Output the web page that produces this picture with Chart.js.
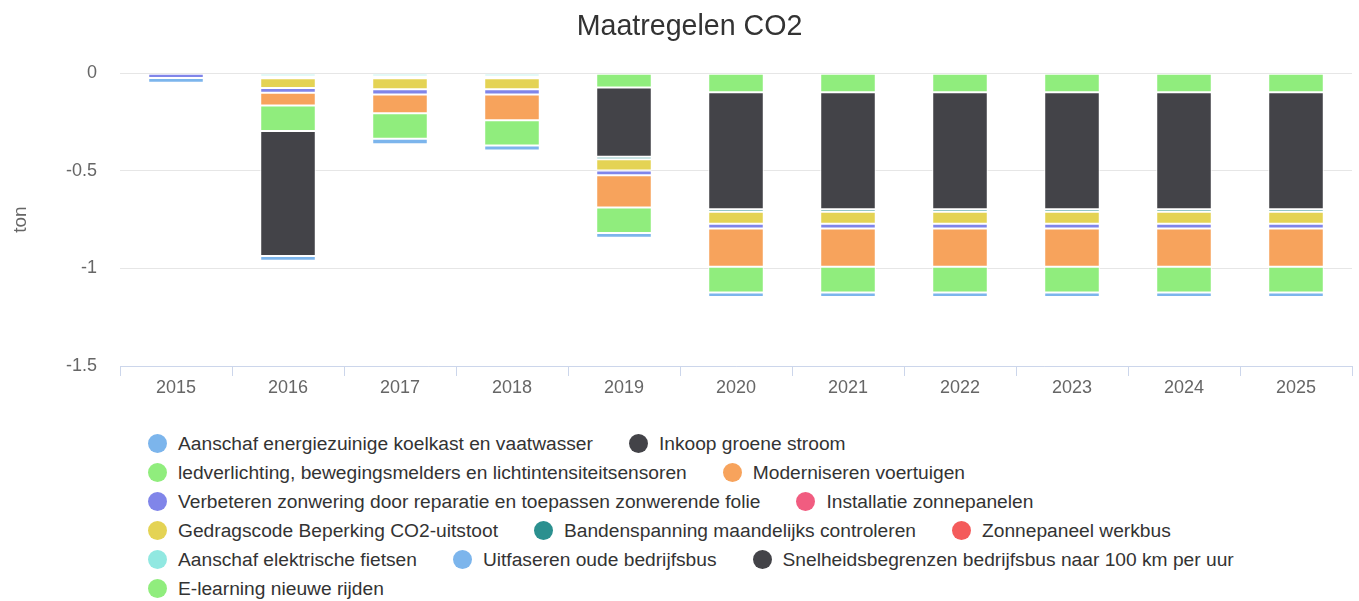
<!DOCTYPE html>
<html lang="nl">
<head>
<meta charset="utf-8">
<title>Maatregelen CO2</title>
<script src="https://cdn.jsdelivr.net/npm/chart.js@4/dist/chart.umd.min.js"></script>
<style>
  body { margin: 0; background: #fff; font-family: "Liberation Sans", Arial, sans-serif; }
  #wrap { position: relative; width: 1359px; height: 601px; }
  #chartBox { position: absolute; left: 0; top: 0; width: 1359px; height: 400px; }
  #legend { position: absolute; left: 148px; top: 429px; width: 1190px; display: flex; flex-wrap: wrap; }
  .item { display: flex; align-items: center; height: 29px; margin-right: 36px; white-space: nowrap; font-size: 19.2px; color: #333; }
  .dot { width: 19px; height: 19px; border-radius: 50%; margin-right: 11px; flex: none; }
</style>
</head>
<body>
<div id="wrap">
  <div id="chartBox"><canvas id="co2Chart"></canvas></div>
  <div id="legend"></div>
</div>
<script>
const years = ["2015", "2016", "2017", "2018", "2019", "2020", "2021", "2022", "2023", "2024", "2025"];
const yTicks = [0, -0.5, -1, -1.5];

const seriesNames = [
  "Aanschaf energiezuinige koelkast en vaatwasser",
  "Inkoop groene stroom",
  "ledverlichting, bewegingsmelders en lichtintensiteitsensoren",
  "Moderniseren voertuigen",
  "Verbeteren zonwering door reparatie en toepassen zonwerende folie",
  "Installatie zonnepanelen",
  "Gedragscode Beperking CO2-uitstoot",
  "Bandenspanning maandelijks controleren",
  "Zonnepaneel werkbus",
  "Aanschaf elektrische fietsen",
  "Uitfaseren oude bedrijfsbus",
  "Snelheidsbegrenzen bedrijfsbus naar 100 km per uur",
  "E-learning nieuwe rijden"
];
const seriesColors = ["#7cb5ec", "#434348", "#90ed7d", "#f7a35c", "#8085e9", "#f15c80",
  "#e4d354", "#2b908f", "#f45b5b", "#91e8e1", "#7cb5ec", "#434348", "#90ed7d"];

// ton CO2 per jaar, per maatregel (null = geen waarde)
const koelkast     = [-0.024, -0.025, -0.028, -0.026, -0.024, -0.024, -0.024, -0.024, -0.024, -0.024, -0.024];
const groeneStroom = [null, -0.64, null, null, null, null, null, null, null, null, null];
const ledverlichting = [null, -0.131, -0.13, -0.13, -0.131, -0.132, -0.132, -0.132, -0.132, -0.132, -0.132];
const voertuigen   = [null, -0.065, -0.097, -0.132, -0.165, -0.196, -0.196, -0.196, -0.196, -0.196, -0.196];
const zonwering    = [-0.024, -0.025, -0.026, -0.026, -0.025, -0.024, -0.024, -0.024, -0.024, -0.024, -0.024];
const zonnepanelen = [null, null, null, null, null, null, null, null, null, null, null];
const gedragscode  = [null, -0.05, -0.057, -0.057, -0.058, -0.061, -0.061, -0.061, -0.061, -0.061, -0.061];
const bandenspanning = [null, -0.01, -0.01, -0.01, -0.013, -0.013, -0.013, -0.013, -0.013, -0.013, -0.013];
const zonnepaneelBus = [null, null, null, null, null, null, null, null, null, null, null];
const fietsen      = [null, -0.015, -0.015, -0.015, null, null, null, null, null, null, null];
const oudeBus      = [null, null, null, null, null, null, null, null, null, null, null];
const snelheid     = [null, null, null, null, -0.354, -0.6, -0.6, -0.6, -0.6, -0.6, -0.6];
const eLearning    = [null, null, null, null, -0.073, -0.097, -0.097, -0.097, -0.097, -0.097, -0.097];

const seriesValues = [koelkast, groeneStroom, ledverlichting, voertuigen, zonwering, zonnepanelen,
  gedragscode, bandenspanning, zonnepaneelBus, fietsen, oudeBus, snelheid, eLearning];

// last measure sits closest to zero, so stack in reverse order
const datasets = seriesNames.map((name, i) => ({
  label: name,
  data: seriesValues[i],
  backgroundColor: seriesColors[i],
  borderColor: "#ffffff",
  borderWidth: 1,
  borderSkipped: false,
  inflateAmount: 0
})).reverse();

const fontFamily = "'Liberation Sans', Arial, sans-serif";
const ctx = document.getElementById("co2Chart").getContext("2d");

const co2Chart = new Chart(ctx, {
  type: "bar",
  data: { labels: years, datasets: datasets },
  options: {
    responsive: true,
    maintainAspectRatio: false,
    animation: false,
    layout: { padding: { left: 27, right: 7, top: 0, bottom: 0 } },
    datasets: { bar: { categoryPercentage: 0.62, barPercentage: 0.8 } },
    plugins: {
      legend: { display: false },
      tooltip: { enabled: false },
      title: {
        display: true,
        text: "Maatregelen CO2",
        color: "#333333",
        font: { family: fontFamily, size: 28.6, weight: "normal" },
        padding: { top: 10, bottom: 29 }
      }
    },
    scales: {
      x: {
        stacked: true,
        offset: true,
        afterFit: s => { s.height = 34; },
        border: { color: "#ccd6eb" },
        grid: { offset: true, drawOnChartArea: false, drawTicks: true, tickLength: 10, color: "#ccd6eb" },
        ticks: { color: "#666666", padding: 1, font: { family: fontFamily, size: 18 } }
      },
      y: {
        stacked: true,
        min: -1.5,
        max: 0,
        afterFit: s => { s.width = 93; },
        afterBuildTicks: s => { s.ticks = yTicks.map(v => ({ value: v })); },
        border: { display: false },
        grid: { color: "#e6e6e6", drawTicks: false },
        ticks: {
          color: "#666666",
          padding: 23,
          font: { family: fontFamily, size: 18 },
          callback: v => String(v)
        },
        title: {
          display: true,
          text: "ton",
          color: "#666666",
          padding: { top: -18, bottom: 0 },
          font: { family: fontFamily, size: 19 }
        }
      }
    }
  }
});

// legend in original order, built from the same arrays
const legendBox = document.getElementById("legend");
seriesNames.forEach((name, i) => {
  const item = document.createElement("div");
  item.className = "item";
  const dot = document.createElement("span");
  dot.className = "dot";
  dot.style.background = seriesColors[i];
  const txt = document.createElement("span");
  txt.textContent = name;
  item.appendChild(dot);
  item.appendChild(txt);
  legendBox.appendChild(item);
});
</script>
</body>
</html>
